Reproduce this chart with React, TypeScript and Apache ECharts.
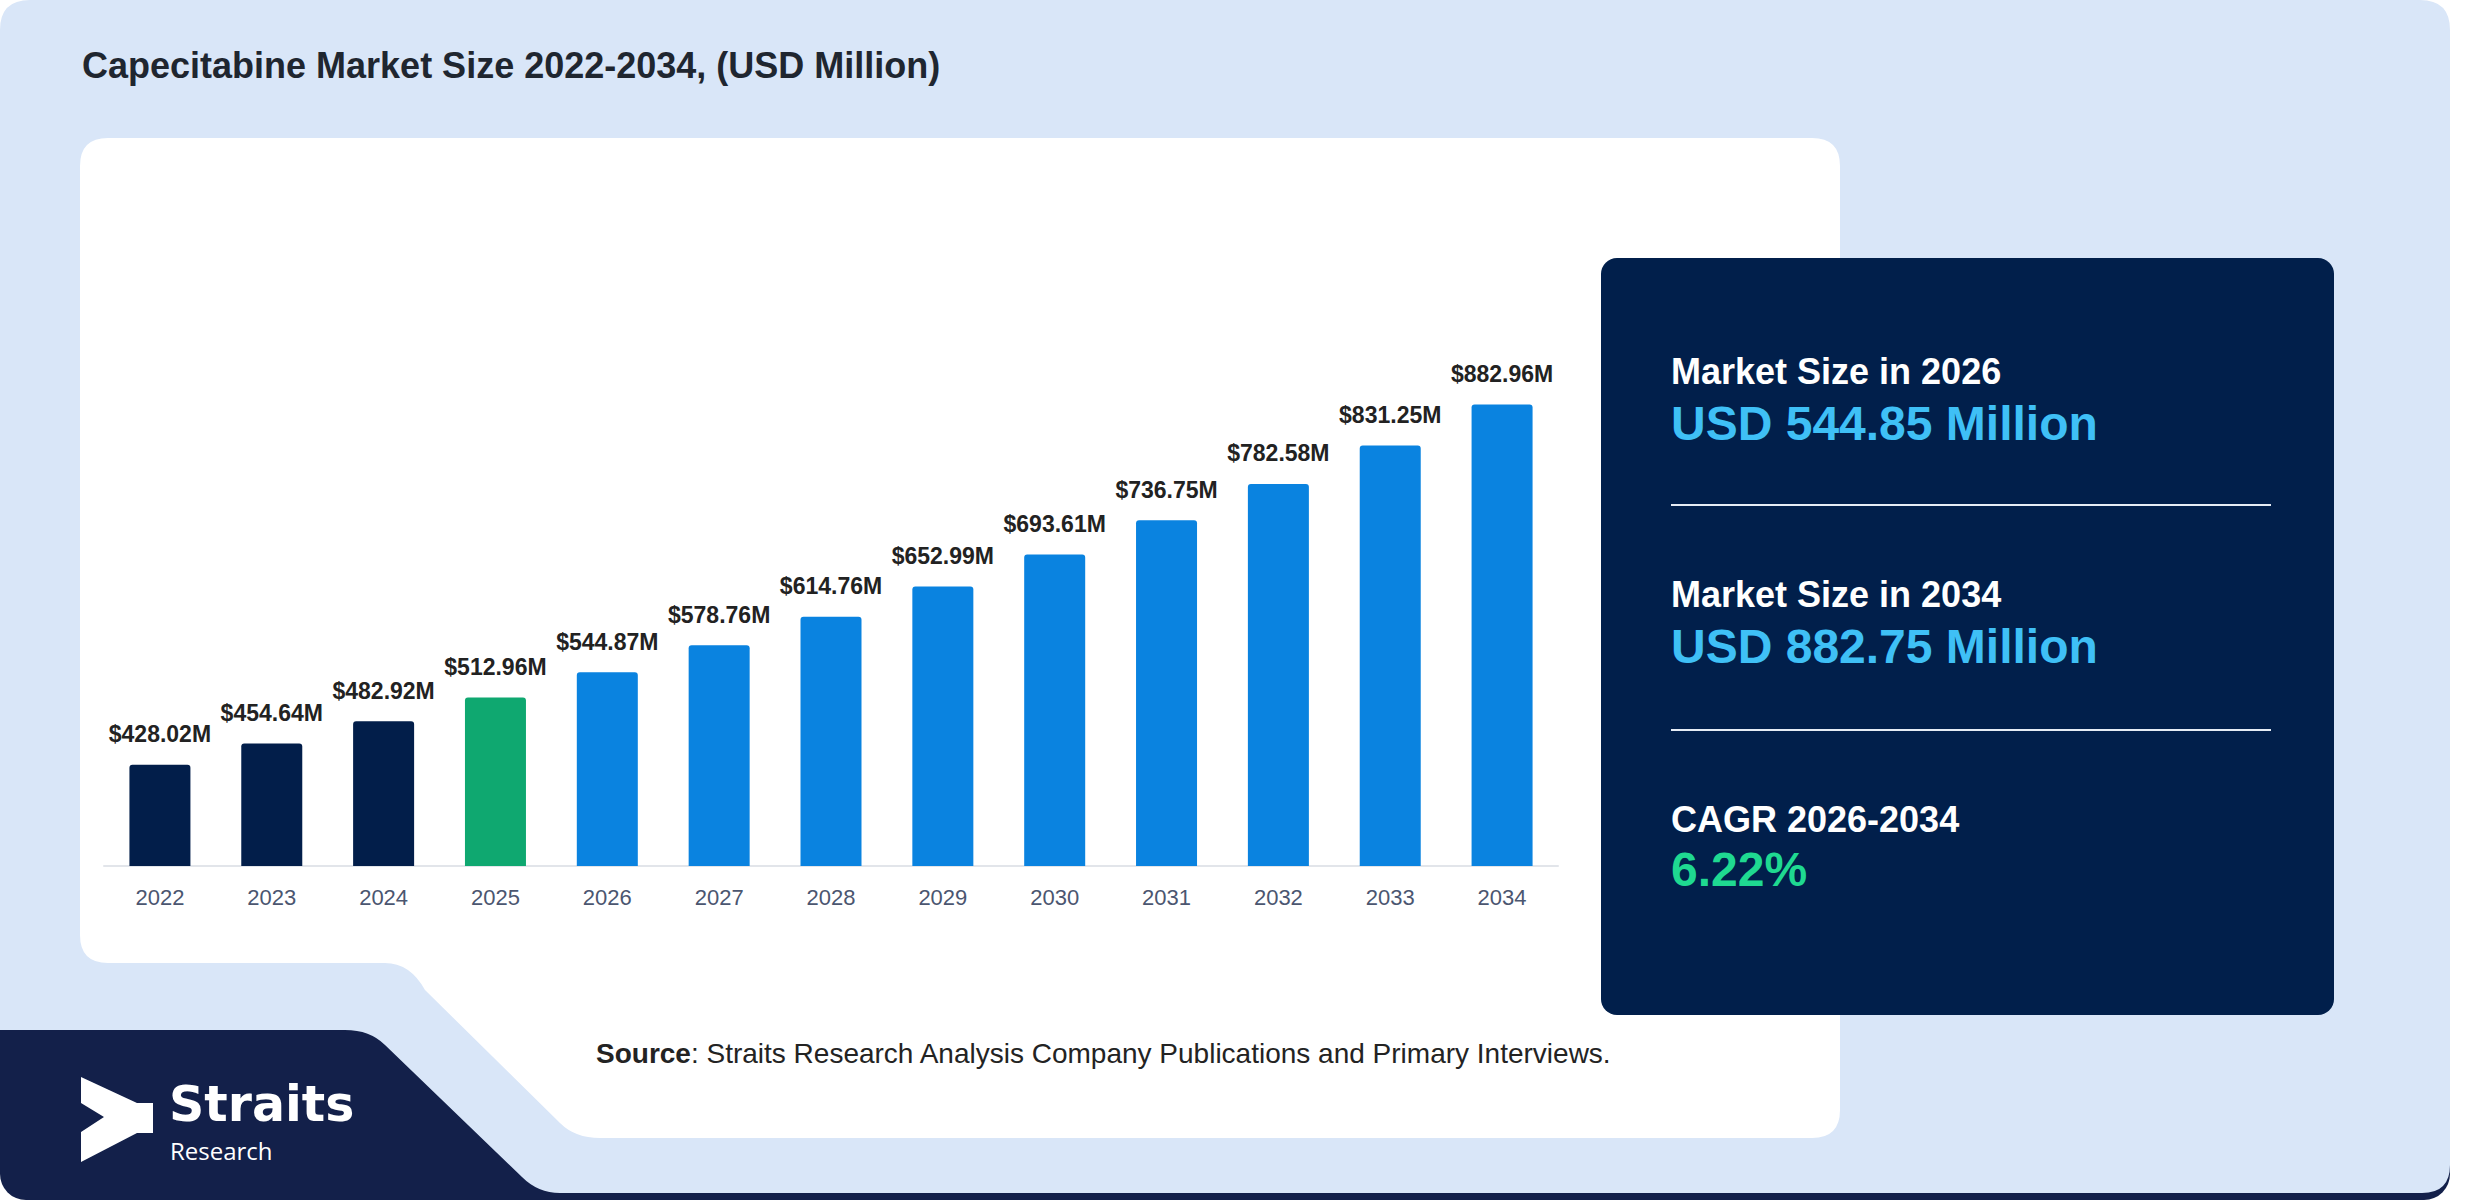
import React, { useEffect, useRef } from "react";
import * as echarts from "echarts";

const years = ["2022", "2023", "2024", "2025", "2026", "2027", "2028", "2029", "2030", "2031", "2032", "2033", "2034"];
const values = [428.02, 454.64, 482.92, 512.96, 544.87, 578.76, 614.76, 652.99, 693.61, 736.75, 782.58, 831.25, 882.96];
const periods = ["hist", "hist", "hist", "base", "fore", "fore", "fore", "fore", "fore", "fore", "fore", "fore", "fore"];
const periodColors: Record<string, string> = { hist: "#021e4a", base: "#0fa870", fore: "#0a83e0" };

const titleText = "Capecitabine Market Size 2022-2034, (USD Million)";
const panelLabels = ["Market Size in 2026", "Market Size in 2034", "CAGR 2026-2034"];
const panelValues = ["USD 544.85 Million", "USD 882.75 Million", "6.22%"];
const sourceText = "{b|Source}: Straits Research Analysis Company Publications and Primary Interviews.";

const FONT = "'Liberation Sans', Arial, Helvetica, sans-serif";
const LOGO_FONT = "'Open Sans', 'Noto Sans', sans-serif";
const LOGO_BOLD_FONT = "'DejaVu Sans', 'Open Sans', sans-serif";

const cardPath =
  "M 30 0 H 2420 Q 2450 0 2450 30 V 1165 Q 2450 1193 2422 1193 H 560 Q 538 1193 522 1177 L 385 1045 Q 370 1030 345 1030 H 0 V 30 Q 0 0 30 0 Z";
const whitePath =
  "M 108 138 H 1812 Q 1840 138 1840 166 V 1110 Q 1840 1138 1812 1138 H 600 Q 575 1138 560 1123 L 425 990 Q 410 963 385 963 H 108 Q 80 963 80 935 V 166 Q 80 138 108 138 Z";

let registered = false;
function registerShapes() {
  if (registered) return;
  registered = true;
  echarts.graphic.registerShape("cardShape", echarts.graphic.extendPath(cardPath, {}) as any);
  echarts.graphic.registerShape("whiteShape", echarts.graphic.extendPath(whitePath, {}) as any);
}

export default function App() {
  const ref = useRef<HTMLDivElement>(null);
  useEffect(() => {
    document.body.style.margin = "0";
    registerShapes();
    const chart = echarts.init(ref.current!, undefined, { renderer: "svg" });
    const blockBase = [371, 594, 819];
    const valueBase = [423, 646, 869];
    const valueColors = ["#3fc0f6", "#3fc0f6", "#1fd991"];
    const panelTexts: any[] = [];
    panelLabels.forEach((t, i) => {
      panelTexts.push({
        type: "text",
        z: 6,
        x: 1671,
        y: blockBase[i],
        style: { text: t, fill: "#ffffff", font: `bold 36px ${FONT}`, verticalAlign: "middle", align: "left" },
      });
      panelTexts.push({
        type: "text",
        z: 6,
        x: 1671,
        y: valueBase[i],
        style: { text: panelValues[i], fill: valueColors[i], font: `bold 48px ${FONT}`, verticalAlign: "middle", align: "left" },
      });
    });

    const option: any = {
      animation: false,
      backgroundColor: "#ffffff",
      textStyle: { fontFamily: FONT },
      graphic: [
        { type: "rect", z: 0, shape: { x: 0, y: 1000, width: 2450, height: 200, r: [0, 0, 26, 26] }, style: { fill: "#13204a" } },
        { type: "cardShape", z: 1, x: 0, y: 0, style: { fill: "#d9e6f8" } },
        { type: "whiteShape", z: 2, x: 0, y: 0, style: { fill: "#ffffff" } },
        { type: "rect", z: 3, shape: { x: 1601, y: 258, width: 733, height: 757, r: 16 }, style: { fill: "#011f4b" } },
        { type: "line", z: 4, shape: { x1: 1671, y1: 505, x2: 2271, y2: 505 }, style: { stroke: "#e6ecf5", lineWidth: 2 } },
        { type: "line", z: 4, shape: { x1: 1671, y1: 730, x2: 2271, y2: 730 }, style: { stroke: "#e6ecf5", lineWidth: 2 } },
        ...panelTexts,
        {
          type: "text",
          z: 6,
          x: 82,
          y: 65,
          style: { text: titleText, fill: "#1f2630", font: `bold 36px ${FONT}`, verticalAlign: "middle" },
        },
        {
          type: "text",
          z: 6,
          x: 596,
          y: 1053,
          style: {
            text: sourceText,
            fill: "#232323",
            font: `28px ${FONT}`,
            verticalAlign: "middle",
            rich: { b: { fontWeight: "bold", fontSize: 28, fontFamily: FONT, fill: "#232323" } },
          },
        },
        {
          type: "polygon",
          z: 6,
          shape: {
            points: [
              [81, 1077], [137, 1103], [153, 1103], [153, 1133], [137, 1133], [81, 1162], [81, 1132], [104, 1117], [81, 1103],
            ],
          },
          style: { fill: "#ffffff" },
        },
        {
          type: "text",
          z: 6,
          x: 169,
          y: 1104,
          style: { text: "Straits", fill: "#ffffff", font: `bold 49px ${LOGO_BOLD_FONT}`, lineHeight: 42, verticalAlign: "middle" },
        },
        {
          type: "text",
          z: 6,
          x: 170,
          y: 1150,
          style: { text: "Research", fill: "#ffffff", font: `24px ${LOGO_FONT}`, lineHeight: 22, verticalAlign: "middle" },
        },
      ],
      grid: { left: 104, right: 922, top: 391, bottom: 334, containLabel: false },
      xAxis: {
        type: "category",
        data: years,
        axisLine: { lineStyle: { color: "#e2e5ea", width: 2 } },
        axisTick: { show: false },
        axisLabel: { color: "#4b5670", fontSize: 22, margin: 20, fontFamily: FONT },
        z: 10,
      },
      yAxis: { type: "value", min: 300, max: 900, show: false, splitLine: { show: false } },
      series: [
        {
          type: "bar",
          z: 10,
          barWidth: 61,
          data: values.map((v, i) => ({ value: v, itemStyle: { color: periodColors[periods[i]], borderRadius: [3, 3, 0, 0] } })),
          label: {
            show: true,
            position: "top",
            distance: 19,
            formatter: (p: any) => `$${Number(p.value).toFixed(2)}M`,
            color: "#222222",
            fontSize: 23,
            fontWeight: "bold",
            fontFamily: FONT,
          },
        },
      ],
    };
    chart.setOption(option);
    return () => chart.dispose();
  }, []);
  return <div ref={ref} style={{ width: 2480, height: 1200, position: "absolute", left: 0, top: 0 }} />;
}
